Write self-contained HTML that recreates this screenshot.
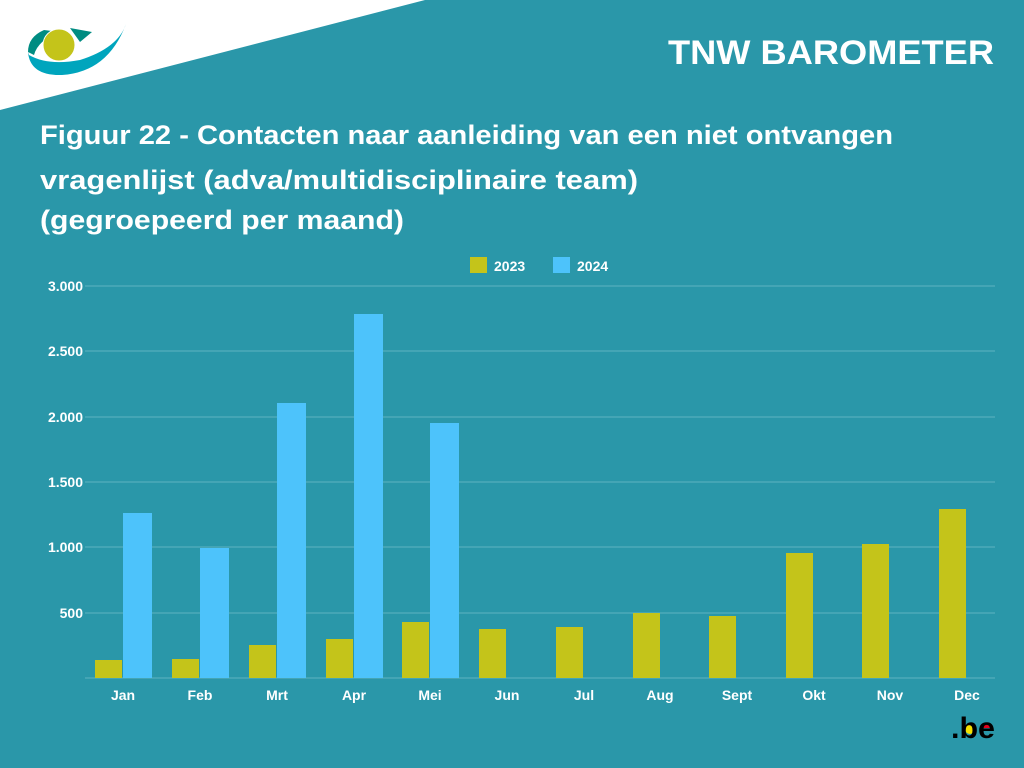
<!DOCTYPE html><html><head><meta charset="utf-8"><style>
body{margin:0;width:1024px;height:768px;overflow:hidden;background:#2a97a9;font-family:"Liberation Sans",sans-serif}
</style></head><body>
<svg width="1024" height="768" viewBox="0 0 1024 768" xmlns="http://www.w3.org/2000/svg" style="position:absolute;left:0;top:0">
<rect width="1024" height="768" fill="#2a97a9"/>
<polygon points="0,0 425,0 0,110" fill="#ffffff"/>
<path d="M44,30 Q28,37 28,52 L34,55 Q38,40 60,32 Z" fill="#008c82"/>
<path d="M70,28 L92,32 L80,42 Z" fill="#008c82"/>
<path d="M28,52 Q30,76 62,75 Q108,72 126,24 Q118,48 80,60 Q48,66 29,55 Z" fill="#00a5bd"/>
<circle cx="59" cy="45" r="16" fill="#c4c41a" stroke="#fff" stroke-width="1"/>
<text x="668" y="64" textLength="326" lengthAdjust="spacingAndGlyphs" fill="#fff" font-size="34" font-weight="bold">TNW BAROMETER</text>
<g fill="#fff" font-size="27" font-weight="bold">
<text x="40" y="144" textLength="853" lengthAdjust="spacingAndGlyphs">Figuur 22 - Contacten naar aanleiding van een niet ontvangen</text>
<text x="40" y="189" textLength="598" lengthAdjust="spacingAndGlyphs">vragenlijst (adva/multidisciplinaire team)</text>
<text x="40" y="229" textLength="364" lengthAdjust="spacingAndGlyphs">(gegroepeerd per maand)</text>
</g>
<rect x="470" y="257" width="17" height="16" fill="#c4c41a"/>
<text x="494" y="271" fill="#fff" font-size="14" font-weight="bold">2023</text>
<rect x="553" y="257" width="17" height="16" fill="#4dc3fb"/>
<text x="577" y="271" fill="#fff" font-size="14" font-weight="bold">2024</text>
<g stroke="#5fb3c1" stroke-width="1">
<line x1="85" x2="995" y1="286" y2="286"/><line x1="85" x2="995" y1="351" y2="351"/>
<line x1="85" x2="995" y1="417" y2="417"/><line x1="85" x2="995" y1="482" y2="482"/>
<line x1="85" x2="995" y1="547" y2="547"/><line x1="85" x2="995" y1="613" y2="613"/>
<line x1="85" x2="995" y1="678" y2="678"/>
</g>
<g fill="#fff" font-size="14" font-weight="bold" text-anchor="end">
<text x="83" y="291">3.000</text><text x="83" y="356">2.500</text><text x="83" y="422">2.000</text>
<text x="83" y="487">1.500</text><text x="83" y="552">1.000</text><text x="83" y="618">500</text>
</g>
<g fill="#c4c41a">
<rect x="95" y="660" width="27" height="18"/>
<rect x="172" y="659" width="27" height="19"/>
<rect x="249" y="645" width="27" height="33"/>
<rect x="326" y="639" width="27" height="39"/>
<rect x="402" y="622" width="27" height="56"/>
<rect x="479" y="629" width="27" height="49"/>
<rect x="556" y="627" width="27" height="51"/>
<rect x="633" y="613" width="27" height="65"/>
<rect x="709" y="616" width="27" height="62"/>
<rect x="786" y="553" width="27" height="125"/>
<rect x="862" y="544" width="27" height="134"/>
<rect x="939" y="509" width="27" height="169"/>
</g>
<g fill="#4dc3fb">
<rect x="123" y="513" width="29" height="165"/>
<rect x="200" y="548" width="29" height="130"/>
<rect x="277" y="403" width="29" height="275"/>
<rect x="354" y="314" width="29" height="364"/>
<rect x="430" y="423" width="29" height="255"/>
</g>
<g fill="#fff" font-size="14" font-weight="bold" text-anchor="middle">
<text x="123" y="700">Jan</text><text x="200" y="700">Feb</text><text x="277" y="700">Mrt</text>
<text x="354" y="700">Apr</text><text x="430" y="700">Mei</text><text x="507" y="700">Jun</text>
<text x="584" y="700">Jul</text><text x="660" y="700">Aug</text><text x="737" y="700">Sept</text>
<text x="814" y="700">Okt</text><text x="890" y="700">Nov</text><text x="967" y="700">Dec</text>
</g>
<circle cx="970" cy="729" r="5" fill="#f5e000"/>
<path d="M981,728 a6,5 0 0 1 12,0 Z" fill="#e3001b"/>
<text x="951" y="738" textLength="44" lengthAdjust="spacingAndGlyphs" fill="#000" font-size="30" font-weight="bold">.be</text>
</svg>
</body></html>
